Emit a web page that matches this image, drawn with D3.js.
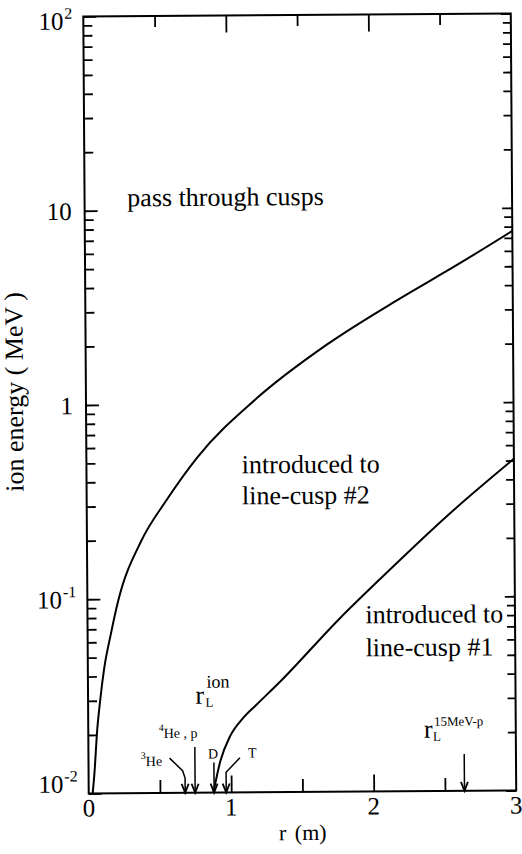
<!DOCTYPE html>
<html>
<head>
<meta charset="utf-8">
<script src="https://cdn.jsdelivr.net/npm/d3@7"></script>
<style>
  body { margin: 0; background: #fff; }
  text { font-family: "Liberation Serif", "DejaVu Serif", serif; fill: #000; }
</style>
</head>
<body>
<svg id="chart" width="522" height="854"></svg>
<script>
// boundary between "pass through" and "line-cusp #2"
var upperR = [0.028, 0.044, 0.060, 0.084, 0.115, 0.163, 0.215, 0.38, 0.557, 0.776, 1.20, 1.695, 2.21, 2.61, 3.0];
var upperE = [0.010, 0.0135, 0.0201, 0.0297, 0.0441, 0.066, 0.097, 0.198, 0.319, 0.53, 1.07, 2.01, 3.45, 5.1, 7.6];
// boundary between "line-cusp #2" and "line-cusp #1"
var lowerR = [0.875, 0.925, 0.995, 1.086, 1.185, 1.348, 1.77, 2.055, 2.55, 3.0];
var lowerE = [0.010, 0.0145, 0.0195, 0.0241, 0.0284, 0.037, 0.078, 0.124, 0.269, 0.51];

var xTicks = [0, 1, 2, 3];
var xMinor = [0.5, 1.5, 2.5];
var yDecades = [0.01, 0.1, 1, 10, 100];
var yBase = ["10", "10", "1", "10", "10"];
var yExp = ["-2", "-1", "", "", "2"];

// Larmor radius arrows at the bottom
var arrowR = [[0.569, 0.66, 0.677, 0.677], [0.747, 0.747], [0.880, 0.880], [1.063, 0.965, 0.965], [2.637, 2.637]];
var arrowE = [[0.0151, 0.0130, 0.0119, 0.010], [0.0172, 0.010], [0.0143, 0.010], [0.0151, 0.0127, 0.010], [0.0155, 0.010]];

var regionText = ["pass through cusps", "introduced to", "line-cusp #2", "introduced to", "line-cusp #1"];
var regionR = [0.30, 1.09, 1.09, 1.95, 1.95];
var regionE = [10.5, 0.439, 0.304, 0.0735, 0.0497];

var svg = d3.select("#chart");
svg.append("rect").attr("width", 522).attr("height", 854).attr("fill", "#fff");

// the scanned figure sits slightly tilted
var g = svg.append("g").attr("transform", "rotate(-0.4,299.75,403.5)");

var x = d3.scaleLinear().domain([0, 3]).range([86, 513.5]);
var y = d3.scaleLog().domain([0.01, 100]).range([792, 15]);

var yMinor = [];
yDecades.slice(0, 4).forEach(function(d) {
  for (var k = 2; k <= 9; k++) yMinor.push(d * k);
});

function tickAxis(axis, tr) {
  var a = g.append("g").attr("transform", tr).call(axis);
  a.select(".domain").remove();
  a.selectAll("line").attr("stroke", "#000").attr("stroke-width", 1.8);
  return a;
}

tickAxis(d3.axisBottom(x).tickValues([1, 2]).tickSize(-17).tickFormat(""), "translate(0," + y(0.01) + ")");
tickAxis(d3.axisBottom(x).tickValues(xMinor).tickSize(-13).tickFormat(""), "translate(0," + y(0.01) + ")");
tickAxis(d3.axisTop(x).tickValues([1, 2]).tickSize(-17).tickFormat(""), "translate(0," + y(100) + ")");
tickAxis(d3.axisTop(x).tickValues(xMinor).tickSize(-11).tickFormat(""), "translate(0," + y(100) + ")");
tickAxis(d3.axisLeft(y).tickValues(yDecades).tickSize(-13).tickFormat(""), "translate(" + x(0) + ",0)");
tickAxis(d3.axisLeft(y).tickValues(yMinor).tickSize(-9).tickFormat(""), "translate(" + x(0) + ",0)");
tickAxis(d3.axisRight(y).tickValues(yDecades).tickSize(-10).tickFormat(""), "translate(" + x(3) + ",0)");
tickAxis(d3.axisRight(y).tickValues(yMinor).tickSize(-8).tickFormat(""), "translate(" + x(3) + ",0)");

g.append("rect")
  .attr("x", x(0)).attr("y", y(100))
  .attr("width", x(3) - x(0)).attr("height", y(0.01) - y(100))
  .attr("fill", "none").attr("stroke", "#000").attr("stroke-width", 2);

// x tick labels
g.selectAll(".xlab").data(xTicks).enter().append("text")
  .attr("x", function(d) { return x(d); })
  .attr("y", y(0.01) + 23)
  .attr("text-anchor", "middle")
  .style("font-size", "25px")
  .text(function(d) { return d; });

g.append("text")
  .attr("x", x(1.5)).attr("y", 840)
  .attr("text-anchor", "middle")
  .style("font-size", "22px").style("word-spacing", "3px")
  .text("r (m)");

// y tick labels
yDecades.forEach(function(d, i) {
  var dy = 9;
  if (i === 0) dy = -1;
  if (i === yDecades.length - 1) dy = 13;
  var t = g.append("text")
    .attr("x", x(0) - (yExp[i] ? 11 : 13))
    .attr("y", y(d) + dy)
    .attr("text-anchor", "end")
    .style("font-size", "25px");
  t.append("tspan").text(yBase[i]);
  if (yExp[i]) {
    t.append("tspan").attr("dx", 1).attr("dy", -11).style("font-size", "16px").text(yExp[i]);
  }
});

g.append("text")
  .attr("transform", "translate(23,390) rotate(-90)")
  .attr("text-anchor", "middle")
  .style("font-size", "26px")
  .text("ion energy ( MeV )");

// curves
var line = d3.line()
  .x(function(d) { return x(d[0]); })
  .y(function(d) { return y(d[1]); })
  .curve(d3.curveMonotoneX);

g.append("path")
  .datum(d3.zip(upperR, upperE))
  .attr("d", line)
  .attr("fill", "none").attr("stroke", "#000").attr("stroke-width", 2);

g.append("path")
  .datum(d3.zip(lowerR, lowerE))
  .attr("d", line)
  .attr("fill", "none").attr("stroke", "#000").attr("stroke-width", 2);

// region labels
regionText.forEach(function(s, i) {
  g.append("text")
    .attr("x", x(regionR[i])).attr("y", y(regionE[i]))
    .style("font-size", "26px")
    .text(s);
});

// arrows
svg.append("defs").append("marker")
  .attr("id", "head")
  .attr("viewBox", "-11 -5 13 10")
  .attr("refX", 0).attr("refY", 0)
  .attr("markerWidth", 13).attr("markerHeight", 10)
  .attr("markerUnits", "userSpaceOnUse")
  .attr("orient", "auto")
  .append("path")
  .attr("d", "M-9,-3.5L0,0L-9,3.5")
  .attr("fill", "none").attr("stroke", "#000").attr("stroke-width", 1.8);

var straight = d3.line()
  .x(function(d) { return x(d[0]); })
  .y(function(d) { return y(d[1]); });

arrowR.forEach(function(rs, i) {
  g.append("path")
    .datum(d3.zip(rs, arrowE[i]))
    .attr("d", straight)
    .attr("fill", "none").attr("stroke", "#000").attr("stroke-width", 1.5)
    .attr("marker-end", "url(#head)");
});

// small particle labels
function smallLabel(r, e, parts) {
  var t = g.append("text").attr("x", x(r)).attr("y", y(e)).style("font-size", "14px");
  parts.forEach(function(p) {
    var s = t.append("tspan").text(p[0]);
    if (p[1]) s.attr("dy", p[1]);
    if (p[2]) s.style("font-size", p[2]);
  });
}
smallLabel(0.367, 0.0138, [["3", -7, "10px"], ["He", 7]]);
smallLabel(0.494, 0.0192, [["4", -7, "10px"], ["He , p", 7]]);
smallLabel(0.838, 0.0150, [["D"]]);
smallLabel(1.12, 0.0151, [["T"]]);

function larmor(r, e, sup, supSize, supDy, subDx) {
  var px = x(r), py = y(e);
  g.append("text").attr("x", px).attr("y", py).style("font-size", "26px").text("r");
  g.append("text").attr("x", px + subDx).attr("y", py + 3).style("font-size", "13px").text("L");
  g.append("text").attr("x", px + subDx + 1).attr("y", py + supDy).style("font-size", supSize).text(sup);
}
larmor(0.754, 0.0287, "ion", "18px", -16, 10);
larmor(2.356, 0.0188, "15MeV-p", "13px", -12, 9);
</script>
</body>
</html>
